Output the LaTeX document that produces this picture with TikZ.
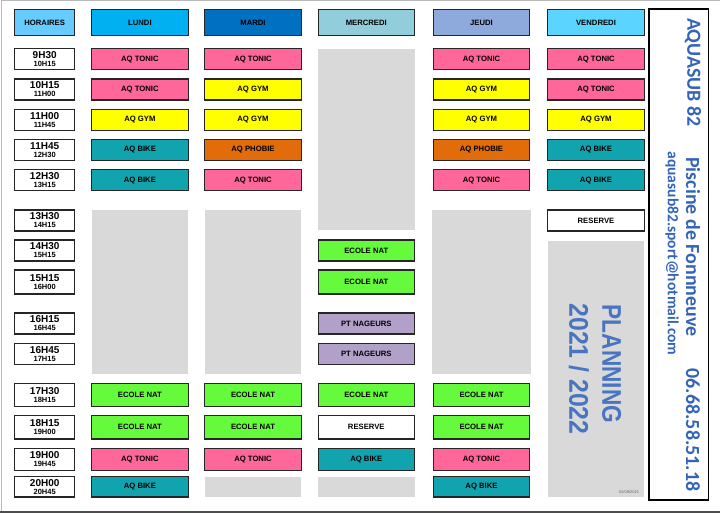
\documentclass[tikz,border=0pt]{standalone}
\usepackage{fontspec}
\setmainfont{Liberation Sans}
\newfontfamily\calib{Carlito}
\usepackage{graphicx}
\usepackage{tikz}
\usetikzlibrary{positioning}
\usepackage{xcolor}
\definecolor{cHoraires}{RGB}{102,204,255}
\definecolor{cLundi}{RGB}{0,176,240}
\definecolor{cMardi}{RGB}{0,112,192}
\definecolor{cMercredi}{RGB}{146,205,220}
\definecolor{cJeudi}{RGB}{142,169,219}
\definecolor{cVendredi}{RGB}{91,213,255}
\definecolor{cTonic}{RGB}{255,102,153}
\definecolor{cGym}{RGB}{255,255,0}
\definecolor{cBike}{RGB}{17,164,174}
\definecolor{cPhobie}{RGB}{226,107,10}
\definecolor{cEcole}{RGB}{102,250,60}
\definecolor{cNageurs}{RGB}{177,160,199}
\definecolor{cPause}{RGB}{217,217,217}
\definecolor{cTexte}{RGB}{52,100,185}
\newcommand{\creneau}[2]{{\fontsize{10}{10.3}\selectfont #1}\\{\fontsize{7.5}{10.3}\selectfont #2}}
\tikzset{%
	every case/.style={
		draw=black!85,
		line width=1.1pt,
		minimum width=96.5pt,
		minimum height=21pt,
		inner sep=0pt,
		font=\fontsize{7.7}{8}\selectfont\bfseries
	},
	horaire/.style={every case, fill=white, minimum width=60pt, align=center},
	jour/.style={every case, minimum height=26.4pt},
	tonic/.style={every case, fill=cTonic},
	gym/.style={every case, fill=cGym},
	bike/.style={every case, fill=cBike},
	phobie/.style={every case, fill=cPhobie},
	ecole/.style={every case, fill=cEcole},
	nageurs/.style={every case, fill=cNageurs},
	reserve/.style={every case, fill=white},
	info/.style={rotate=-90, text=cTexte, font=\calib\bfseries\fontsize{20}{20}\selectfont},
}

\begin{document}
\begin{tikzpicture}[x=1pt,y=-1pt]
			\useasboundingbox (0,0) rectangle (720,513);
			\draw[gray!55, line width=1pt] (1.5,513) -- (1.5,1) -- (720,1);
			\draw[black!70, line width=2pt] (0,511.5) -- (720,511.5);
			
			\fill[cPause] (317.7,49.3) rectangle (415,230);
			\fill[cPause] (92,210) rectangle (187.7,373.7);
			\fill[cPause] (204.7,210) rectangle (301.3,373.7);
			\fill[cPause] (432.3,210) rectangle (530.7,373.7);
			\fill[cPause] (547.7,240.7) rectangle (644.3,496.7);
			\fill[cPause] (204.7,477) rectangle (301.3,497);
			\fill[cPause] (317.7,477) rectangle (415,497);
			
			\node[jour, fill=cHoraires, minimum width=60pt] (hor) at (44.7,22.5) {HORAIRES};
			\node[jour, fill=cLundi] (lundi) at (139.9,22.5) {LUNDI};
			\node[jour, fill=cMardi] (mardi) at (253,22.5) {MARDI};
			\node[jour, fill=cMercredi] (mercredi) at (366.3,22.5) {MERCREDI};
			\node[jour, fill=cJeudi] (jeudi) at (481.5,22.5) {JEUDI};
			\node[jour, fill=cVendredi] (vendredi) at (596,22.5) {VENDREDI};
			
			\node[horaire] (h1) at (44.7,59.2) {\creneau{9H30}{10H15}};
			\node[horaire] (h2) at (44.7,89.5) {\creneau{10H15}{11H00}};
			\node[horaire] (h3) at (44.7,119.7) {\creneau{11H00}{11H45}};
			\node[horaire] (h4) at (44.7,150) {\creneau{11H45}{12H30}};
			\node[horaire] (h5) at (44.7,180.3) {\creneau{12H30}{13H15}};
			\node[horaire] (h6) at (44.7,220.5) {\creneau{13H30}{14H15}};
			\node[horaire] (h7) at (44.7,250.5) {\creneau{14H30}{15H15}};
			\node[horaire, minimum height=24pt] (h8) at (44.7,282) {\creneau{15H15}{16H00}};
			\node[horaire] (h9) at (44.7,323.5) {\creneau{16H15}{16H45}};
			\node[horaire] (h10) at (44.7,353.8) {\creneau{16H45}{17H15}};
			\node[horaire, minimum height=23.4pt] (h11) at (44.7,395) {\creneau{17H30}{18H15}};
			\node[horaire, minimum height=23.3pt] (h12) at (44.7,427.3) {\creneau{18H15}{19H00}};
			\node[horaire, minimum height=22.4pt] (h13) at (44.7,459.5) {\creneau{19H00}{19H45}};
			\node[horaire, minimum height=20.3pt] (h14) at (44.7,486.8) {\creneau{20H00}{20H45}};
			
			\node[tonic] (lu1) at (139.9,59.2) {AQ TONIC};
			\node[tonic] (lu2) at (139.9,89.5) {AQ TONIC};
			\node[gym] (lu3) at (139.9,119.7) {AQ GYM};
			\node[bike] (lu4) at (139.9,150) {AQ BIKE};
			\node[bike] (lu5) at (139.9,180.3) {AQ BIKE};
			\node[ecole, minimum height=23.4pt] (lu11) at (139.9,395) {ECOLE NAT};
			\node[ecole, minimum height=23.3pt] (lu12) at (139.9,427.3) {ECOLE NAT};
			\node[tonic, minimum height=22.4pt] (lu13) at (139.9,459.5) {AQ TONIC};
			\node[bike, minimum height=20.3pt] (lu14) at (139.9,486.8) {AQ BIKE};
			
			\node[tonic] (ma1) at (253,59.2) {AQ TONIC};
			\node[gym] (ma2) at (253,89.5) {AQ GYM};
			\node[gym] (ma3) at (253,119.7) {AQ GYM};
			\node[phobie] (ma4) at (253,150) {AQ PHOBIE};
			\node[tonic] (ma5) at (253,180.3) {AQ TONIC};
			\node[ecole, minimum height=23.4pt] (ma11) at (253,395) {ECOLE NAT};
			\node[ecole, minimum height=23.3pt] (ma12) at (253,427.3) {ECOLE NAT};
			\node[tonic, minimum height=22.4pt] (ma13) at (253,459.5) {AQ TONIC};
			
			\node[ecole] (me7) at (366.3,250.5) {ECOLE NAT};
			\node[ecole, minimum height=24pt] (me8) at (366.3,282) {ECOLE NAT};
			\node[nageurs] (me9) at (366.3,323.5) {PT NAGEURS};
			\node[nageurs] (me10) at (366.3,353.8) {PT NAGEURS};
			\node[ecole, minimum height=23.4pt] (me11) at (366.3,395) {ECOLE NAT};
			\node[reserve, minimum height=23.3pt] (me12) at (366.3,427.3) {RESERVE};
			\node[bike, minimum height=22.4pt] (me13) at (366.3,459.5) {AQ BIKE};
			
			\node[tonic] (je1) at (481.5,59.2) {AQ TONIC};
			\node[gym] (je2) at (481.5,89.5) {AQ GYM};
			\node[gym] (je3) at (481.5,119.7) {AQ GYM};
			\node[phobie] (je4) at (481.5,150) {AQ PHOBIE};
			\node[tonic] (je5) at (481.5,180.3) {AQ TONIC};
			\node[ecole, minimum height=23.4pt] (je11) at (481.5,395) {ECOLE NAT};
			\node[ecole, minimum height=23.3pt] (je12) at (481.5,427.3) {ECOLE NAT};
			\node[tonic, minimum height=22.4pt] (je13) at (481.5,459.5) {AQ TONIC};
			\node[bike, minimum height=20.3pt] (je14) at (481.5,486.8) {AQ BIKE};
			
			\node[tonic] (ve1) at (596,59.2) {AQ TONIC};
			\node[tonic] (ve2) at (596,89.5) {AQ TONIC};
			\node[gym] (ve3) at (596,119.7) {AQ GYM};
			\node[bike] (ve4) at (596,150) {AQ BIKE};
			\node[bike] (ve5) at (596,180.3) {AQ BIKE};
			\node[reserve] (ve6) at (596,220.5) {RESERVE};
			
			\node[rotate=-90, text=cTexte!90!white, font=\bfseries\fontsize{27}{27}\selectfont] (planning) at (611.7,364) {\scalebox{0.84}[1]{PLANNING}};
			\node[rotate=-90, text=cTexte!90!white, font=\bfseries\fontsize{27}{27}\selectfont] (saison) at (579,369) {\scalebox{0.92}[1]{2021 / 2022}};
			\node[text=black!60, font=\fontsize{4}{4}\selectfont, inner sep=0pt] (date) at (629,492) {02/09/2021};
			
			\node[draw, line width=1.3pt, minimum width=59.3pt, minimum height=491pt, inner sep=0pt] (panneau) at (678.7,254.5) {};
			\node[info] (club) at (693,72.5) {AQUASUB 82};
			\node[info] (piscine) at (693,247) {Piscine de Fonnneuve};
			\node[info] (tel) at (693,430) {06.68.58.51.18};
			\node[info, font=\calib\bfseries\fontsize{15.5}{15.5}\selectfont] (mail) at (672,253.5) {aquasub82.sport@hotmail.com};
			
		\end{tikzpicture}
\end{document}
